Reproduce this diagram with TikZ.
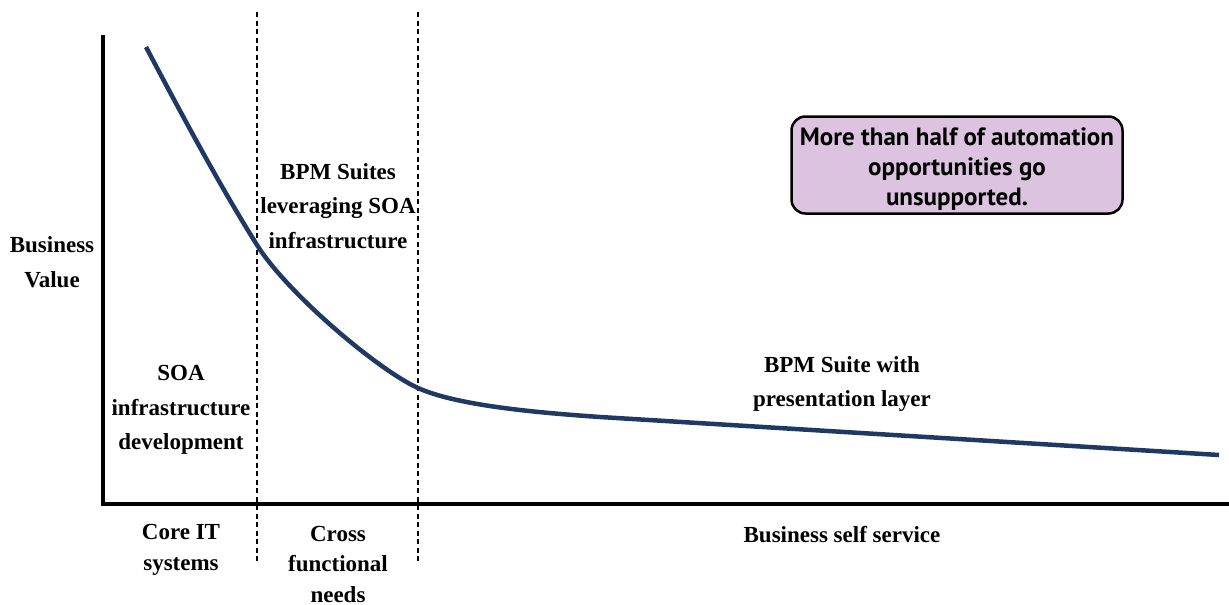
\documentclass[tikz,border=0pt]{standalone}
\usepackage{fontspec}
\setmainfont{Liberation Serif}
\newfontfamily\boxfont{PT Sans}
\definecolor{curveblue}{RGB}{31,56,100}
\definecolor{boxfill}{RGB}{220,196,224}
\begin{document}
\begin{tikzpicture}[x=1pt,y=-1pt,
  lbl/.style={align=center,font=\fontsize{23}{34.5}\selectfont\bfseries,inner sep=0pt},
  lbltight/.style={align=center,font=\fontsize{23}{30.5}\selectfont\bfseries,inner sep=0pt},
  divider/.style={dash pattern=on 5pt off 3.5pt,line width=1.2pt},
  axisline/.style={line width=4pt},
  notebox/.style={draw,line width=2.5pt,rounded corners=14pt,fill=boxfill,minimum width=331pt,minimum height=97pt,inner sep=0pt},
  notetext/.style={align=center,font=\boxfont\bfseries\fontsize{25}{30}\selectfont,inner sep=0pt}]
\useasboundingbox (0,0) rectangle (1229,605);
% axes
\coordinate (ytop) at (103,35);
\coordinate (origin) at (103,504);
\coordinate (xend) at (1229,504);
\draw[axisline] (ytop) -- (origin) -- (xend);
% dividers
\coordinate (d1t) at (257,12); \coordinate (d1b) at (257,562);
\coordinate (d2t) at (418,12); \coordinate (d2b) at (418,562);
\draw[divider] (d1t) -- (d1b);
\draw[divider] (d2t) -- (d2b);
% curve
\coordinate (c0) at (146,47);
\coordinate (c1) at (257,245);
\coordinate (c2) at (418,388);
\coordinate (c3) at (600,417);
\coordinate (c4) at (1219,455);
\draw[curveblue,line width=4.5pt]
  (c0) .. controls (183,117) and (220,186) .. (c1)
       .. controls (287,293) and (378,370) .. (c2)
       .. controls (458,406) and (540,412.8) .. (c3)
       -- (c4);
% labels
\node[lbl] (yl) at (52,262) {Business\\Value};
\node[lbl] (bpms) at (338,206) {BPM Suites\\leveraging SOA\\infrastructure};
\node[lbl] (soa) at (181,410) {SOA\\infrastructure\\development};
\node[lbltight] (core) at (181,550) {Core IT\\systems};
\node[lbltight] (cross) at (338,564) {Cross\\functional\\needs};
\node[lbl] (bss) at (842,535) {Business self service};
\node[lbl] (pres) at (842,384) {BPM Suite with\\presentation layer};
\node[notebox] (note) at (957,165) {};
\node[notetext] (notetxt) at (957,169) {More than half of automation\\opportunities go\\unsupported.};
\end{tikzpicture}
\end{document}
